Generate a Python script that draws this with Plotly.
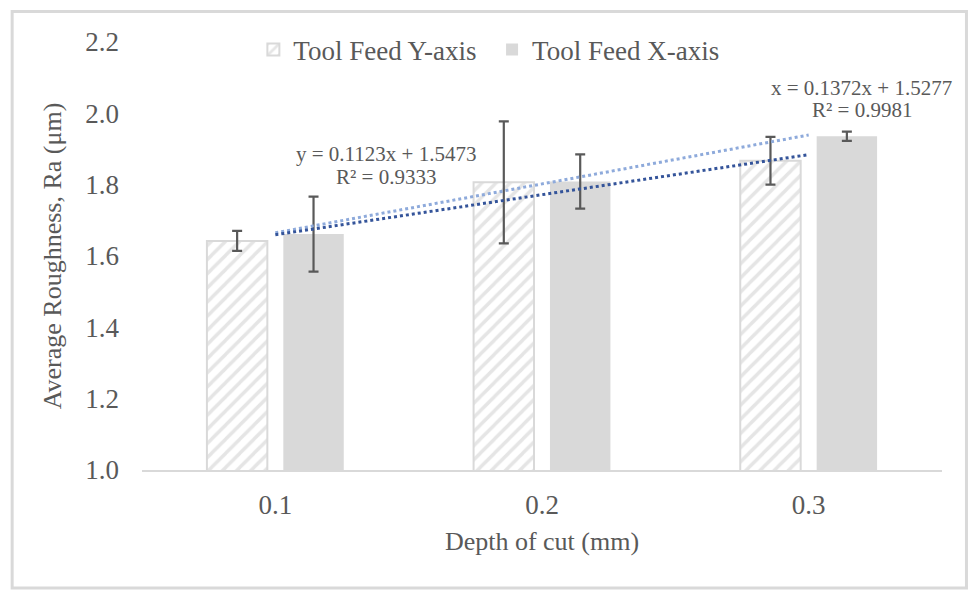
import plotly.graph_objects as go

# Surface roughness vs depth of cut, two feed directions
depth_labels = ["0.1", "0.2", "0.3"]
ra_feed_y = [1.6423, 1.8066, 1.8669]
ra_feed_x = [1.6614, 1.8090, 1.9358]
err_feed_y = [0.028, 0.171, 0.067]
err_feed_x = [0.105, 0.076, 0.013]

# Linear trendlines (fitted on category index 1..3)
fit_y = (0.1123, 1.5473, 0.9333)
fit_x = (0.1372, 1.5277, 0.9981)

y_ticks = [1.0, 1.2, 1.4, 1.6, 1.8, 2.0, 2.2]

W, H = 972, 592
ML, MR, MT, MB = 141.5, 29.5, 42, 122
PW, PH = W - ML - MR, H - MT - MB

FONT = "Liberation Serif, Times New Roman, serif"
TXT = "#595959"
GRAY = "#d9d9d9"

fig = go.Figure()

fig.add_trace(go.Bar(
    x=depth_labels, y=ra_feed_y, name="Tool Feed Y-axis", legend="legend",
    marker=dict(color="white",
                line=dict(color=GRAY, width=2),
                pattern=dict(shape="/", fgcolor="#cccccc", bgcolor="white",
                             size=10, solidity=0.35)),
    error_y=dict(type="data", array=err_feed_y, color=TXT,
                 thickness=2.2, width=5),
))
fig.add_trace(go.Bar(
    x=depth_labels, y=ra_feed_x, name="Tool Feed X-axis", legend="legend2",
    marker=dict(color=GRAY, line=dict(width=0)),
    error_y=dict(type="data", array=err_feed_x, color=TXT,
                 thickness=2.2, width=5),
))

idx = [1, 2, 3]
trend_y = [fit_y[0] * i + fit_y[1] for i in idx]
trend_x = [fit_x[0] * i + fit_x[1] for i in idx]
fig.add_trace(go.Scatter(x=depth_labels, y=trend_x, mode="lines",
                         line=dict(color="#8eaadb", width=3, dash="dot"),
                         showlegend=False, hoverinfo="skip"))
fig.add_trace(go.Scatter(x=depth_labels, y=trend_y, mode="lines",
                         line=dict(color="#34549a", width=3, dash="dot"),
                         showlegend=False, hoverinfo="skip"))

ann_font = dict(family=FONT, size=21, color=TXT)
annotations = [
    dict(x=0.416, y=1.886, text=f"y = {fit_y[0]}x + {fit_y[1]}"),
    dict(x=0.416, y=1.822, text=f"R² = {fit_y[2]}"),
    dict(x=2.199, y=2.071, text=f"x = {fit_x[0]}x + {fit_x[1]}"),
    dict(x=2.199, y=2.009, text=f"R² = {fit_x[2]}"),
]
for a in annotations:
    a.update(xref="x", yref="y", showarrow=False, font=ann_font,
             xanchor="center", yanchor="middle")

# Light gray chart-area frame
fx0 = (11.5 - ML) / PW
fx1 = (967 - ML) / PW
fy0 = (H - MB - 588) / PH
fy1 = (H - MB - 11.5) / PH

leg_common = dict(orientation="h", xanchor="left",
                  y=(H - MB - 50) / PH, yanchor="middle",
                  font=dict(family=FONT, size=27, color=TXT),
                  bgcolor="rgba(0,0,0,0)", itemsizing="constant")

fig.update_layout(
    width=W, height=H,
    margin=dict(l=ML, r=MR, t=MT, b=MB, pad=0, autoexpand=False),
    paper_bgcolor="white", plot_bgcolor="white",
    barmode="group", bargap=0.427, bargroupgap=0.209,
    font=dict(family=FONT, size=27, color=TXT),
    showlegend=True,
    legend=dict(x=(253 - ML) / PW, **leg_common),
    legend2=dict(x=(492 - ML) / PW, **leg_common),
    xaxis=dict(type="category", range=[-0.5, 2.5], automargin=False,
               showgrid=False, showline=True,
               linecolor=GRAY, linewidth=2, ticks="",
               ticklabelstandoff=10,
               tickfont=dict(family=FONT, size=27, color=TXT),
               title=dict(text="Depth of cut (mm)", standoff=12,
                          font=dict(family=FONT, size=26, color=TXT))),
    yaxis=dict(range=[1.0, 2.2], tickvals=y_ticks, automargin=False,
               ticktext=[f"{v:.1f}" for v in y_ticks],
               showgrid=False, zeroline=False, showline=False, ticks="",
               ticklabelstandoff=22,
               tickfont=dict(family=FONT, size=27, color=TXT),
               title=dict(text="Average Roughness, Ra (μm)", standoff=16,
                          font=dict(family=FONT, size=26, color=TXT))),
    annotations=annotations,
    shapes=[dict(type="rect", xref="paper", yref="paper",
                 x0=fx0, x1=fx1, y0=fy0, y1=fy1,
                 line=dict(color=GRAY, width=3), layer="below")],
)

fig.write_html("out.html")
